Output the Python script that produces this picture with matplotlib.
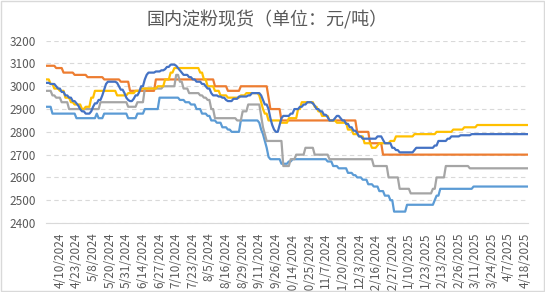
import numpy as np
import matplotlib
matplotlib.use("Agg")
import matplotlib.pyplot as plt
from matplotlib.patches import Rectangle

plt.rcParams['font.family'] = ['Noto Sans CJK SC', 'DejaVu Sans']

# trading day count, and tick labels (every 9th trading day, starting at day 7)
n_days = 261
tick_labels = ['4/10/2024', '4/23/2024', '5/8/2024', '5/20/2024', '5/31/2024',
               '6/14/2024', '6/27/2024', '7/10/2024', '7/23/2024', '8/5/2024',
               '8/16/2024', '8/29/2024', '9/11/2024', '9/26/2024', '10/14/2024',
               '10/25/2024', '11/7/2024', '11/20/2024', '12/3/2024', '12/16/2024',
               '12/27/2024', '1/10/2025', '1/23/2025', '2/13/2025', '2/26/2025',
               '3/11/2025', '3/24/2025', '4/7/2025', '4/18/2025']

# each series: trading day on which the price changed, and the new price
lb_start = [0, 3, 16, 27, 28, 31, 44, 49, 53, 61, 72, 75, 78, 81, 84, 87, 89, 92, 95, 98,
            100, 105, 115, 116, 117, 118, 119, 120, 121, 127, 131, 133, 152, 155, 158, 163,
            166, 168, 171, 174, 177, 180, 183, 186, 188, 195, 210, 211, 213, 231]
lb_val = [2910, 2880, 2860, 2880, 2860, 2880, 2860, 2880, 2900, 2950, 2940, 2930, 2920,
          2900, 2880, 2870, 2850, 2840, 2820, 2810, 2800, 2850, 2840, 2810, 2790, 2760,
          2730, 2690, 2680, 2660, 2670, 2680, 2670, 2650, 2640, 2620, 2610, 2600, 2590,
          2570, 2560, 2540, 2520, 2500, 2450, 2480, 2500, 2520, 2550, 2560]

or_start = [0, 5, 9, 15, 22, 31, 40, 45, 59, 91, 98, 105, 120, 121, 127, 168, 175, 182]
or_val = [3090, 3080, 3060, 3050, 3040, 3030, 3020, 2980, 3030, 3000, 2980, 3000, 2950,
          2900, 2850, 2800, 2750, 2700]

gr_start = [0, 3, 5, 8, 12, 29, 44, 49, 53, 63, 70, 72, 74, 77, 83, 85, 87, 89, 91, 103,
            106, 109, 116, 117, 118, 119, 128, 132, 135, 140, 145, 153, 177, 185, 191, 197,
            209, 211, 216, 229]
gr_val = [2980, 2960, 2950, 2930, 2900, 2930, 2910, 2930, 2990, 3000, 3050, 3020, 2990,
          2970, 2960, 2950, 2940, 2900, 2860, 2850, 2890, 2920, 2870, 2820, 2790, 2760,
          2650, 2680, 2700, 2730, 2700, 2680, 2650, 2600, 2550, 2530, 2550, 2600, 2650,
          2640]

ye_start = [0, 2, 4, 7, 10, 13, 15, 19, 21, 24, 26, 38, 44, 48, 51, 60, 64, 67, 69, 83,
            85, 87, 91, 94, 98, 105, 108, 115, 116, 117, 118, 120, 127, 131, 136, 138, 145,
            147, 149, 153, 157, 163, 166, 169, 172, 176, 179, 180, 186, 189, 199, 211, 220,
            226, 233]
ye_val = [3030, 3010, 2990, 2980, 2950, 2930, 2920, 2900, 2910, 2950, 2980, 2960, 2970,
          2980, 2990, 3000, 3030, 3060, 3080, 3060, 3030, 3000, 2980, 2960, 2950, 2960,
          2970, 2960, 2930, 2900, 2880, 2850, 2840, 2860, 2900, 2930, 2910, 2890, 2870,
          2850, 2840, 2810, 2790, 2780, 2750, 2730, 2740, 2750, 2760, 2780, 2790, 2800,
          2810, 2820, 2830]

db_start = [0, 2, 5, 6, 8, 10, 12, 14, 16, 17, 18, 19, 21, 24, 25, 26, 28, 30, 31, 32,
            33, 38, 39, 40, 42, 43, 44, 45, 47, 48, 50, 51, 53, 54, 55, 59, 62, 64, 65, 67,
            70, 71, 72, 73, 74, 77, 79, 81, 84, 86, 87, 89, 90, 93, 95, 97, 98, 101, 104, 109,
            111, 116, 117, 118, 120, 121, 122, 123, 124, 126, 127, 128, 132, 134, 137, 139,
            141, 144, 145, 146, 148, 150, 152, 153, 156, 157, 159, 160, 162, 164, 166, 168,
            169, 171, 179, 182, 183, 187, 189, 191, 199, 200, 210, 212, 217, 219, 224, 230]
db_val = [3015, 3010, 3000, 2990, 2975, 2960, 2950, 2935, 2925, 2915, 2900, 2890, 2880,
          2890, 2910, 2925, 2940, 2960, 2985, 3010, 3020, 3015, 3000, 2985, 2970, 2950,
          2940, 2935, 2945, 2960, 2975, 3000, 3030, 3050, 3060, 3065, 3070, 3075, 3085,
          3095, 3090, 3080, 3070, 3060, 3050, 3040, 3030, 3020, 3010, 3000, 2990, 2970,
          2960, 2955, 2950, 2940, 2935, 2945, 2955, 2960, 2970, 2960, 2940, 2920, 2900,
          2860, 2830, 2810, 2800, 2830, 2860, 2870, 2880, 2900, 2910, 2920, 2930, 2925,
          2915, 2900, 2890, 2875, 2865, 2850, 2860, 2870, 2860, 2850, 2835, 2820, 2805,
          2795, 2780, 2770, 2780, 2765, 2750, 2730, 2720, 2710, 2720, 2730, 2740, 2760,
          2770, 2780, 2785, 2790]


def expand(starts, values):
    """Turn price-change lists into one price per trading day."""
    days = np.arange(n_days)
    pos = np.searchsorted(starts, days, side='right') - 1
    return np.asarray(values)[pos]


def main():
    fig = plt.figure(figsize=(5.45, 2.92), dpi=100)
    ax = fig.add_axes([46 / 545, 1 - 223 / 292, (528 - 46) / 545, (223 - 40.7) / 292])

    days = np.arange(n_days)
    series = [(lb_start, lb_val, '#5B9BD5'),
              (or_start, or_val, '#ED7D31'),
              (gr_start, gr_val, '#A5A5A5'),
              (ye_start, ye_val, '#FFC000'),
              (db_start, db_val, '#4472C4')]
    for starts, vals, color in series:
        ax.plot(days, expand(starts, vals), color=color, linewidth=1.6,
                solid_joinstyle='round')

    ax.set_ylim(2400, 3200)
    ax.set_yticks(range(2400, 3201, 100))
    ax.set_xlim(-0.5, n_days - 0.5)
    ax.set_xticks(range(7, 7 + 9 * len(tick_labels), 9))
    ax.set_xticklabels(tick_labels, rotation=90, va='top', ha='center')

    ax.grid(axis='y', color='#D9D9D9', linestyle=(0, (4, 3)), linewidth=0.8)
    for side in ['top', 'right', 'left']:
        ax.spines[side].set_visible(False)
    ax.spines['bottom'].set_color('#D9D9D9')
    ax.tick_params(axis='both', length=0, labelsize=8.5, colors='#595959')
    ax.tick_params(axis='y', pad=7)
    ax.tick_params(axis='x', pad=7)

    fig.text(0.49, 0.93, '国内淀粉现货（单位：元/吨）', ha='center', va='center',
             fontsize=13, color='#595959')

    fig.patches.append(Rectangle((0.002, 0.002), 0.996, 0.996, transform=fig.transFigure,
                                 fill=False, edgecolor='#D9D9D9', linewidth=1))

    fig.savefig('out.png', dpi=100)
    plt.close(fig)


if __name__ == "__main__":
    main()
